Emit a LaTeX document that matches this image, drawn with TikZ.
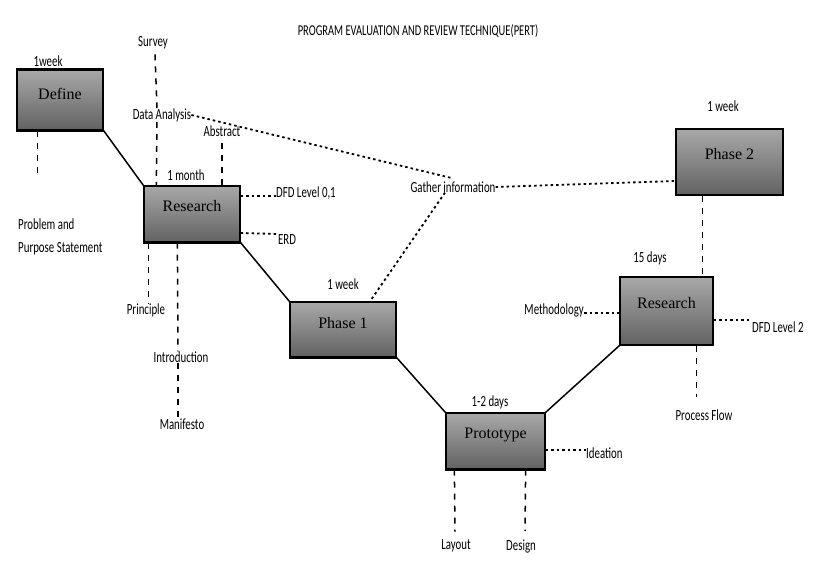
\documentclass[tikz,border=0pt]{standalone}
\usepackage{fontspec}
\setmainfont{Liberation Serif}
\newfontfamily\labfont[FakeStretch=0.7]{Carlito}
\begin{document}
\begin{tikzpicture}[x=1pt,y=-1pt,
  pbox/.style={draw=black, line width=1.3pt, rectangle, inner sep=0pt,
    top color={rgb,255:red,168;green,168;blue,168},
    bottom color={rgb,255:red,98;green,98;blue,98}},
  btxt/.style={inner sep=0pt, font=\fontsize{16}{18}\selectfont},
  lab/.style={inner sep=0pt, font=\labfont\fontsize{15.5}{18}\selectfont},
  conn/.style={line width=1.5pt, black},
  dotl/.style={line width=1.8pt, dash pattern=on 2.5pt off 3pt},
  vdash/.style={line width=1.5pt, dash pattern=on 6pt off 6pt}
]
\useasboundingbox (0,0) rectangle (828,572);

% title
\node[lab, font=\labfont\fontsize{15}{17}\selectfont] (title) at (418,31) {PROGRAM EVALUATION AND REVIEW TECHNIQUE(PERT)};

% boxes
\node[pbox, minimum width=86, minimum height=60] (def) at (60,100) {};
\node[btxt] (deft) at (60,94) {Define};
\node[pbox, minimum width=96, minimum height=56] (r1) at (192,214) {};
\node[btxt] (r1t) at (192,206) {Research};
\node[pbox, minimum width=106, minimum height=55] (p1) at (343,329.5) {};
\node[btxt] (p1t) at (343,323) {Phase 1};
\node[pbox, minimum width=99, minimum height=56] (pr) at (495.5,441) {};
\node[btxt] (prt) at (495.5,435) {Prototype};
\node[pbox, minimum width=93, minimum height=68] (r2) at (666.5,311) {};
\node[btxt] (r2t) at (666.5,303) {Research};
\node[pbox, minimum width=107, minimum height=66] (p2) at (729.5,162) {};
\node[btxt] (p2t) at (729.5,154) {Phase 2};

% thick edges
\draw[line width=3pt] (def.north west) -- (def.north east);
\draw[line width=3pt] (def.south west) -- (def.south east);
\draw[line width=2.5pt] (r1.south west) -- (r1.south east);
\draw[line width=2.5pt] (p1.south west) -- (p1.south east);
\draw[line width=2.5pt] (pr.south west) -- (pr.south east);

% main connectors
\draw[conn] (def.south east) -- (r1.north west);
\draw[conn] (r1.south east) -- (p1.north west);
\draw[conn] (p1.south east) -- (pr.north west);
\draw[conn] (pr.north east) -- (r2.south west);

% labels
\node[lab] (w1a) at (48,61) {1week};
\node[lab] (survey) at (153,43) {Survey};
\node[lab] (da) at (162,115) {Data Analysis};
\node[lab] (abs) at (222,131) {Abstract};
\node[lab] (mon) at (186,175) {1 month};
\node[lab, anchor=west] (dfd1) at (276,193) {DFD Level 0,1};
\node[lab, anchor=west] (erd) at (278,240) {ERD};
\node[lab, anchor=west, align=left, font=\labfont\fontsize{15.5}{23}\selectfont] (prob) at (18,237) {Problem and\\Purpose Statement};
\node[lab] (princ) at (146,310) {Principle};
\node[lab] (intro) at (181,357) {Introduction};
\node[lab] (manif) at (182,424) {Manifesto};
\node[lab] (w1b) at (343,284) {1 week};
\node[lab] (gather) at (453,187) {Gather information};
\node[lab] (d12) at (490,402) {1-2 days};
\node[lab, anchor=west] (idea) at (586,453) {Ideation};
\node[lab] (layout) at (456,546) {Layout};
\node[lab] (design) at (521,546) {Design};
\node[lab] (d15) at (650,258) {15 days};
\node[lab, anchor=east] (meth) at (584,310) {Methodology};
\node[lab, anchor=west] (dfd2) at (752,327) {DFD Level 2};
\node[lab] (pflow) at (704,415) {Process Flow};
\node[lab] (w1c) at (723,106) {1 week};

% anchor coordinates
\coordinate (r1pa) at ([xshift=5pt]r1.south west);
\coordinate (p2b) at ([xshift=-27pt]p2.south);
\coordinate (r2m) at ([yshift=-2pt]r2.west);
\coordinate (r2b) at ([xshift=30pt]r2.south);
\coordinate (absb) at ([yshift=-6pt]abs.south);

% dashed / dotted connectors
\draw[vdash] ([xshift=21pt]def.south west) -- ++(0,42);
\draw[vdash] ([xshift=2pt,yshift=-5pt]survey.south) -- ([xshift=-5pt]da.north);
\draw[vdash] ([xshift=-5pt]da.south) -- ([xshift=13pt]r1.north west);
\draw[vdash] (absb) -- (absb |- r1.north);
\draw[dotl] (da.east) -- ([yshift=3pt]gather.north);
\draw[dotl] ([xshift=-8pt]gather.south) -- ([xshift=27pt]p1.north);
\draw[dotl] (gather.east) -- ([yshift=-19pt]p2.west);
\draw[dotl] ([yshift=18pt]r1.east) -- ([yshift=-3pt]dfd1.west);
\draw[dotl] ([yshift=-19pt]r1.east) -- ([yshift=6pt]erd.west);
\draw[vdash] (r1pa) -- (r1pa |- princ.north);
\draw[vdash] ([xshift=34pt]r1.south west) -- ([xshift=-3pt]intro.north);
\draw[vdash] ([xshift=-3pt]intro.south) -- ([xshift=-4pt]manif.north);
\draw[dotl] ([yshift=-9pt]pr.east) -- ([yshift=3pt]idea.west);
\draw[vdash] ([xshift=9pt]pr.south west) -- ([xshift=-1pt,yshift=8pt]layout.north);
\draw[vdash] ([xshift=-20pt]pr.south east) -- ([xshift=4pt,yshift=8pt]design.north);
\draw[dotl] (meth.east |- r2m) -- (r2m);
\draw[dotl] ([yshift=-9pt]r2.east) -- ([yshift=7pt]dfd2.west);
\draw[vdash] (r2b) -- ([yshift=12pt]r2b |- pflow.north);
\draw[vdash] (p2b) -- (p2b |- r2.north);
\end{tikzpicture}
\end{document}
